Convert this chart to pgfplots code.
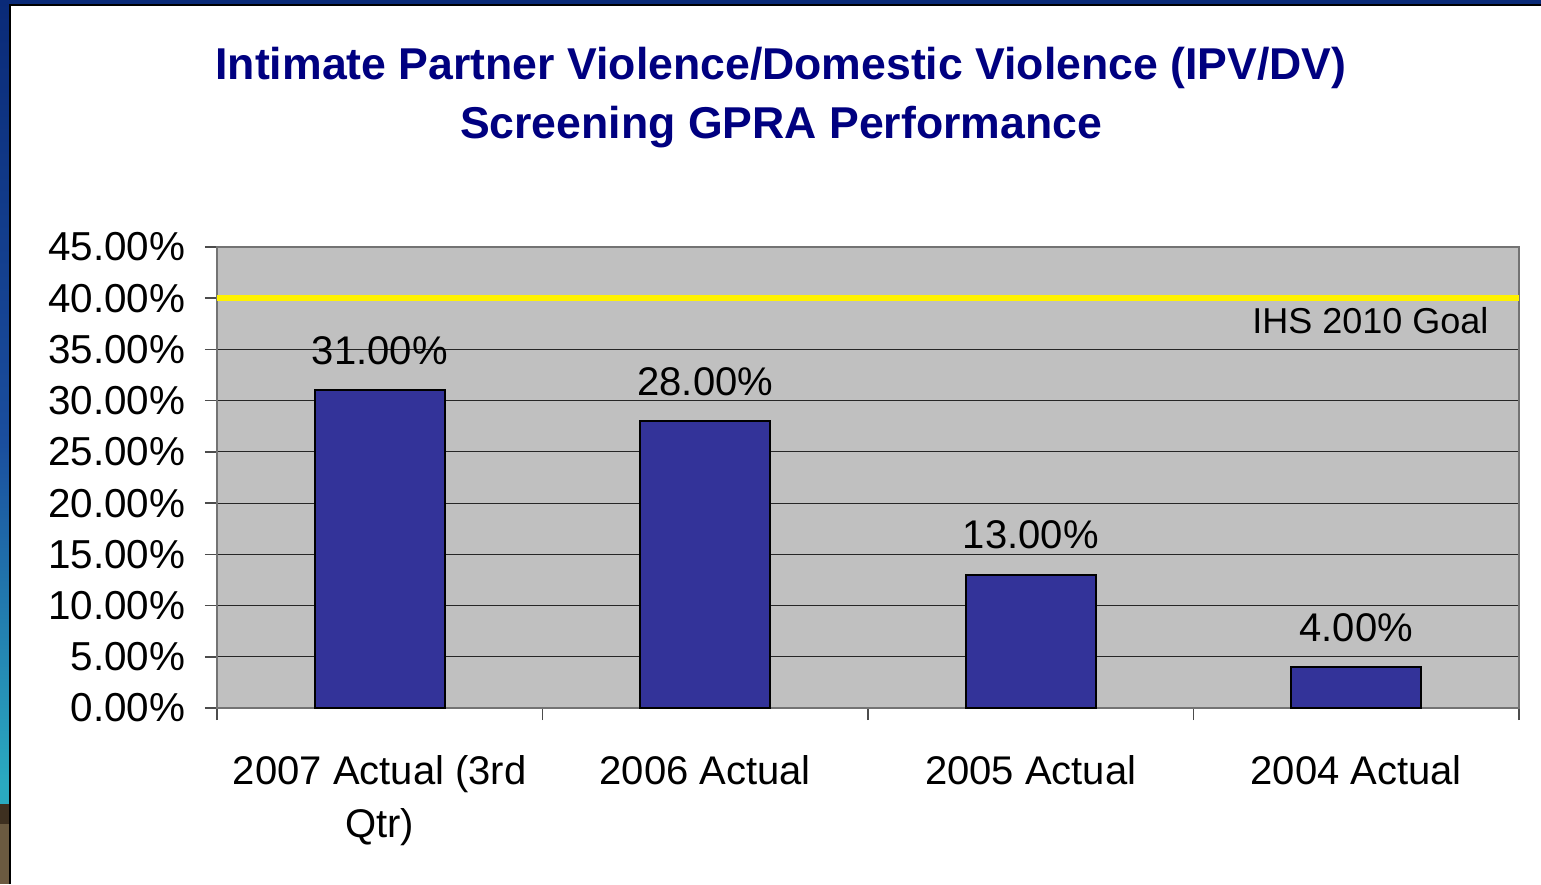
\documentclass[border=0pt]{standalone}
\usepackage{pgfplots}
\pgfplotsset{compat=1.18}
\usepackage{fontspec}
\setmainfont{Liberation Sans}
\definecolor{barblue}{HTML}{333399}
\definecolor{plotgray}{HTML}{C0C0C0}
\definecolor{titleblue}{HTML}{000080}
\definecolor{frameA}{HTML}{0A2A78}
\definecolor{frameB}{HTML}{1A4E9E}
\definecolor{frameC}{HTML}{2AAAC0}
\definecolor{frameD}{HTML}{6B5A40}
\definecolor{frameE}{HTML}{3E3020}
\begin{document}
\begin{tikzpicture}
\path[use as bounding box] (0,0) rectangle (770.5pt,442pt);
\fill[white] (0,0) rectangle (770.5pt,442pt);
% slide frame
\shade[top color=frameA, bottom color=frameB] (0,221pt) rectangle (5pt,442pt);
\shade[top color=frameB, bottom color=frameC] (0,50pt) rectangle (5pt,221pt);
\shade[top color=frameC, bottom color=frameC] (0,40pt) rectangle (5pt,50pt);
\fill[frameD] (0,0) rectangle (5pt,40pt);
\fill[frameE] (0,40pt) rectangle (5pt,30pt);
\fill[frameA] (0,439.5pt) rectangle (770.5pt,442pt);
\draw[black, line width=0.6pt] (5pt,0) -- (5pt,439.5pt) -- (770.5pt,439.5pt);
% title
\node[font=\fontsize{22.3}{29.5}\bfseries\selectfont, text=titleblue, align=center] at (390.5pt,393pt)
  {Intimate Partner Violence/Domestic Violence (IPV/DV)\\Screening GPRA Performance};
\begin{axis}[
  at={(108.5pt,88pt)}, anchor=south west,
  scale only axis, width=651pt, height=230.5pt,
  xmin=-0.5, xmax=3.5, ymin=0, ymax=45,
  axis background/.style={fill=plotgray},
  axis line style={draw=black!55, line width=1pt},
  tick align=outside, major tick length=6pt,
  xtick pos=lower, ytick pos=left,
  tick style={draw=black!70, line width=0.75pt},
  xtick={-0.5,0.5,1.5,2.5,3.5},
  x tick label as interval,
  xticklabels={{2007 Actual (3rd\\Qtr)},{2006 Actual},{2005 Actual},{2004 Actual}},
  xticklabel style={align=center, font=\fontsize{20}{26.5}\selectfont, yshift=-14pt},
  ytick={0,5,...,45},
  yticklabels={0.00\%,5.00\%,10.00\%,15.00\%,20.00\%,25.00\%,30.00\%,35.00\%,40.00\%,45.00\%},
  yticklabel style={font=\fontsize{20.2}{24}\selectfont, xshift=-6.3pt},
  ymajorgrids, grid style={draw=black!85, line width=0.5pt},
  /pgf/number format/assume math mode=true,
  clip=false,
]
\addplot[ybar, bar width=0.4, fill=barblue, draw=black, line width=1pt,
  nodes near coords={\pgfmathprintnumber[fixed,fixed zerofill,precision=2]{\pgfplotspointmeta}\%},
  every node near coord/.append style={anchor=base, yshift=13pt, font=\fontsize{20}{24}\selectfont, text=black}]
  coordinates {(0,31) (1,28) (2,13) (3,4)};
\addplot[draw=yellow, line width=3pt, forget plot] coordinates {(-0.5,40) (3.5,40)};
\node[anchor=base east, font=\fontsize{18}{20}\selectfont] at (axis cs:3.428,36.6) {IHS 2010 Goal};
\end{axis}
\end{tikzpicture}
\end{document}
